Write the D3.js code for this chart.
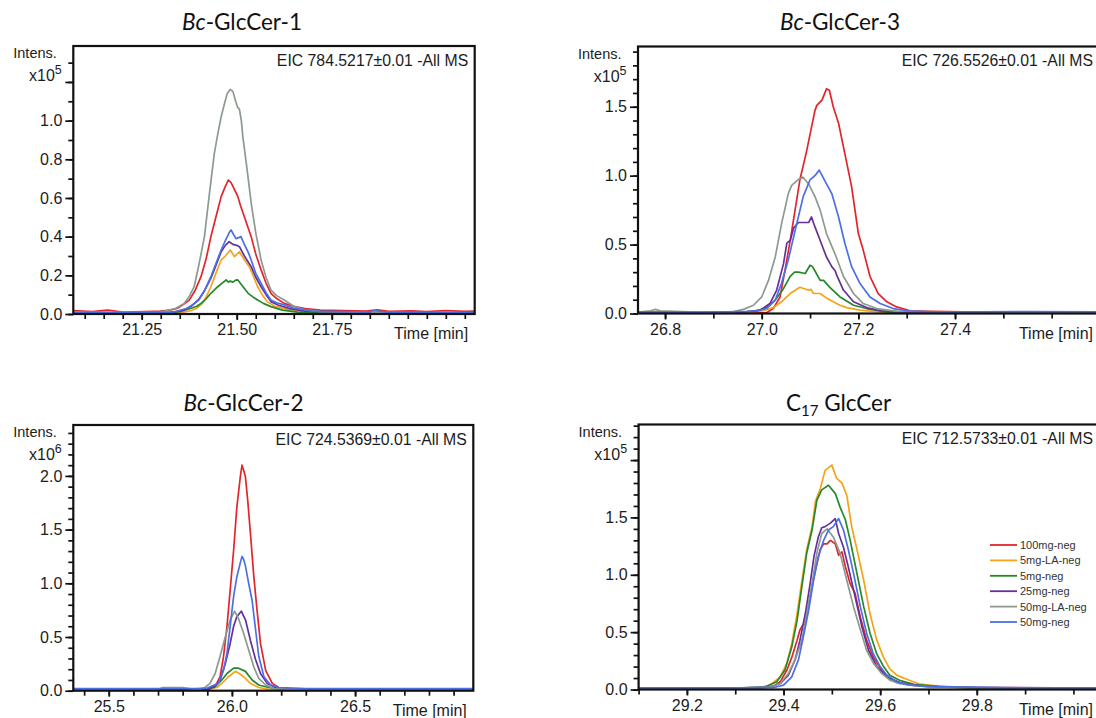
<!DOCTYPE html>
<html><head><meta charset="utf-8">
<script src="https://cdn.jsdelivr.net/npm/d3@7/dist/d3.min.js"></script>
<style>body{margin:0;background:#fff;} svg{display:block;}</style>
</head><body>
<svg id="c" width="1096" height="718"></svg>
<script>
// ---------- DATA ----------
const seriesNames = ["100mg-neg","5mg-LA-neg","5mg-neg","25mg-neg","50mg-LA-neg","50mg-neg"];

const titleItalic = ["Bc","Bc","Bc",""];
const titleMain   = ["-GlcCer-1","-GlcCer-3","-GlcCer-2","C"];
const titleSub    = ["","","","17"];
const titleTail   = ["","",""," GlcCer"];
const eicLabels = ["EIC 784.5217±0.01 -All MS","EIC 726.5526±0.01 -All MS","EIC 724.5369±0.01 -All MS","EIC 712.5733±0.01 -All MS"];
const intensExp = ["5","5","6","5"];

const xLabels1 = [21.25,21.50,21.75];
const xLabels2 = [26.8,27.0,27.2,27.4];
const xLabels3 = [25.5,26.0,26.5];
const xLabels4 = [29.2,29.4,29.6,29.8];
const yLabels1 = [0.0,0.2,0.4,0.6,0.8,1.0];
const yLabels2 = [0.0,0.5,1.0,1.5];
const yLabels3 = [0.0,0.5,1.0,1.5,2.0];
const yLabels4 = [0.0,0.5,1.0,1.5];

// Panel 1: Bc-GlcCer-1 (x10^5)
const p1_100mg = [[21.07,0.018],[21.12,0.012],[21.16,0.02],[21.20,0.01],[21.26,0.012],[21.30,0.015],[21.33,0.022],[21.344,0.03],[21.36,0.05],[21.375,0.072],[21.39,0.12],[21.406,0.193],[21.42,0.29],[21.432,0.40],[21.445,0.50],[21.459,0.607],[21.47,0.66],[21.478,0.693],[21.485,0.68],[21.49,0.66],[21.503,0.607],[21.51,0.56],[21.52,0.503],[21.538,0.40],[21.55,0.31],[21.564,0.228],[21.577,0.16],[21.59,0.107],[21.605,0.08],[21.625,0.055],[21.65,0.04],[21.68,0.028],[21.72,0.02],[21.78,0.018],[21.84,0.015],[21.87,0.022],[21.90,0.014],[21.96,0.016],[22.0,0.012],[22.05,0.018],[22.1,0.014],[22.126,0.015]];
const p1_5mgLA = [[21.07,0.005],[21.2,0.004],[21.3,0.006],[21.36,0.01],[21.38,0.018],[21.395,0.03],[21.41,0.055],[21.42,0.09],[21.432,0.141],[21.445,0.21],[21.459,0.279],[21.47,0.30],[21.483,0.331],[21.494,0.297],[21.507,0.322],[21.52,0.28],[21.533,0.245],[21.545,0.19],[21.555,0.141],[21.567,0.10],[21.58,0.064],[21.6,0.04],[21.63,0.025],[21.67,0.015],[21.75,0.008],[21.9,0.006],[22.126,0.005]];
const p1_5mg = [[21.07,0.004],[21.2,0.003],[21.3,0.005],[21.35,0.012],[21.38,0.03],[21.395,0.04],[21.406,0.055],[21.42,0.08],[21.432,0.107],[21.45,0.141],[21.465,0.165],[21.472,0.176],[21.478,0.165],[21.483,0.17],[21.49,0.165],[21.497,0.175],[21.503,0.176],[21.515,0.145],[21.53,0.107],[21.545,0.085],[21.555,0.072],[21.57,0.055],[21.59,0.038],[21.62,0.02],[21.66,0.01],[21.75,0.006],[22.126,0.004]];
const p1_25mg = [[21.07,0.006],[21.25,0.005],[21.33,0.008],[21.36,0.02],[21.38,0.04],[21.40,0.075],[21.415,0.12],[21.432,0.185],[21.445,0.25],[21.459,0.322],[21.47,0.355],[21.48,0.374],[21.49,0.36],[21.5,0.355],[21.507,0.348],[21.52,0.30],[21.538,0.245],[21.55,0.19],[21.564,0.141],[21.577,0.10],[21.59,0.064],[21.61,0.045],[21.64,0.028],[21.68,0.015],[21.8,0.008],[22.126,0.006]];
const p1_50mgLA = [[21.07,0.01],[21.2,0.008],[21.3,0.01],[21.34,0.03],[21.362,0.055],[21.375,0.09],[21.388,0.141],[21.40,0.25],[21.415,0.40],[21.428,0.62],[21.441,0.831],[21.45,0.93],[21.459,1.02],[21.468,1.09],[21.475,1.14],[21.483,1.162],[21.49,1.15],[21.497,1.10],[21.502,1.07],[21.507,1.06],[21.512,1.0],[21.516,0.917],[21.527,0.75],[21.538,0.573],[21.55,0.42],[21.564,0.279],[21.577,0.19],[21.59,0.124],[21.605,0.095],[21.625,0.072],[21.652,0.038],[21.68,0.022],[21.72,0.012],[21.8,0.01],[22.126,0.006]];
const p1_50mg = [[21.07,0.008],[21.25,0.006],[21.33,0.008],[21.37,0.03],[21.385,0.05],[21.40,0.072],[21.415,0.12],[21.432,0.193],[21.445,0.26],[21.459,0.331],[21.47,0.38],[21.48,0.42],[21.485,0.435],[21.492,0.41],[21.498,0.39],[21.505,0.395],[21.511,0.40],[21.52,0.36],[21.53,0.32],[21.538,0.279],[21.55,0.21],[21.564,0.159],[21.577,0.11],[21.59,0.072],[21.605,0.058],[21.625,0.047],[21.65,0.03],[21.7,0.015],[21.85,0.01],[21.86,0.018],[21.9,0.008],[22.126,0.008]];

// Panel 2: Bc-GlcCer-3 (x10^5)
const p2_100mg = [[26.744,0.005],[26.9,0.005],[26.98,0.005],[27.01,0.005],[27.024,0.036],[27.038,0.12],[27.048,0.31],[27.059,0.53],[27.069,0.75],[27.079,0.97],[27.093,1.18],[27.11,1.47],[27.114,1.51],[27.125,1.55],[27.134,1.63],[27.14,1.62],[27.148,1.50],[27.159,1.38],[27.172,1.16],[27.186,0.92],[27.2,0.58],[27.21,0.46],[27.224,0.27],[27.241,0.145],[27.259,0.085],[27.279,0.048],[27.307,0.02],[27.35,0.015],[27.45,0.01],[27.55,0.006],[27.7,0.005]];
const p2_5mgLA = [[26.744,0.005],[26.95,0.005],[27.003,0.02],[27.024,0.043],[27.041,0.085],[27.059,0.145],[27.07,0.17],[27.079,0.19],[27.088,0.18],[27.097,0.17],[27.102,0.175],[27.107,0.145],[27.121,0.145],[27.135,0.11],[27.148,0.085],[27.162,0.06],[27.176,0.043],[27.203,0.024],[27.25,0.01],[27.35,0.006],[27.7,0.005]];
const p2_5mg = [[26.744,0.005],[26.95,0.006],[26.99,0.02],[27.01,0.043],[27.028,0.097],[27.045,0.18],[27.059,0.27],[27.068,0.30],[27.076,0.30],[27.09,0.29],[27.1,0.35],[27.105,0.34],[27.11,0.31],[27.121,0.24],[27.128,0.24],[27.141,0.19],[27.162,0.12],[27.19,0.06],[27.217,0.036],[27.259,0.012],[27.3,0.008],[27.7,0.006]];
const p2_25mg = [[26.744,0.006],[26.96,0.008],[26.997,0.024],[27.017,0.072],[27.031,0.17],[27.045,0.36],[27.052,0.51],[27.059,0.53],[27.066,0.62],[27.076,0.66],[27.09,0.66],[27.097,0.66],[27.103,0.70],[27.11,0.63],[27.121,0.53],[27.134,0.41],[27.145,0.34],[27.152,0.31],[27.155,0.28],[27.169,0.17],[27.19,0.085],[27.217,0.043],[27.245,0.02],[27.3,0.01],[27.7,0.006]];
const p2_50mgLA = [[26.744,0.01],[26.77,0.02],[26.78,0.03],[26.79,0.02],[26.85,0.012],[26.92,0.01],[26.94,0.012],[26.962,0.03],[26.983,0.06],[27.0,0.12],[27.014,0.24],[27.028,0.41],[27.041,0.65],[27.055,0.87],[27.062,0.93],[27.075,0.97],[27.085,0.99],[27.097,0.94],[27.11,0.85],[27.121,0.75],[27.134,0.58],[27.152,0.43],[27.169,0.27],[27.19,0.145],[27.21,0.072],[27.238,0.036],[27.28,0.015],[27.4,0.01],[27.7,0.008]];
const p2_50mg = [[26.744,0.012],[26.87,0.01],[26.93,0.012],[26.97,0.015],[26.99,0.02],[27.01,0.036],[27.028,0.097],[27.041,0.22],[27.055,0.39],[27.069,0.60],[27.086,0.85],[27.1,0.97],[27.11,1.0],[27.119,1.04],[27.134,0.94],[27.145,0.87],[27.159,0.70],[27.172,0.51],[27.186,0.34],[27.203,0.22],[27.224,0.12],[27.245,0.072],[27.272,0.036],[27.3,0.02],[27.35,0.012],[27.45,0.012],[27.55,0.014],[27.7,0.012]];

// Panel 3: Bc-GlcCer-2 (x10^6)
const p3_100mg = [[25.356,0.012],[25.85,0.012],[25.9,0.015],[25.932,0.037],[25.952,0.13],[25.966,0.32],[25.98,0.60],[25.993,0.94],[26.007,1.31],[26.02,1.71],[26.034,1.99],[26.041,2.10],[26.048,2.05],[26.055,1.99],[26.065,1.75],[26.075,1.47],[26.089,1.06],[26.102,0.75],[26.116,0.44],[26.137,0.19],[26.164,0.068],[26.19,0.03],[26.25,0.015],[26.98,0.012]];
const p3_5mgLA = [[25.356,0.008],[25.9,0.01],[25.939,0.03],[25.959,0.068],[25.986,0.13],[26.014,0.18],[26.03,0.16],[26.048,0.13],[26.075,0.068],[26.109,0.03],[26.15,0.012],[26.98,0.008]];
const p3_5mg = [[25.356,0.008],[25.9,0.012],[25.932,0.037],[25.959,0.10],[25.98,0.16],[26.007,0.21],[26.027,0.21],[26.055,0.18],[26.082,0.10],[26.109,0.053],[26.15,0.03],[26.2,0.012],[26.98,0.008]];
const p3_25mg = [[25.356,0.01],[25.9,0.012],[25.93,0.04],[25.952,0.10],[25.973,0.25],[25.993,0.44],[26.007,0.60],[26.02,0.69],[26.038,0.74],[26.055,0.66],[26.075,0.47],[26.096,0.29],[26.116,0.16],[26.143,0.068],[26.178,0.03],[26.22,0.015],[26.98,0.01]];
const p3_50mgLA = [[25.356,0.01],[25.70,0.012],[25.72,0.03],[25.8,0.03],[25.84,0.015],[25.87,0.015],[25.89,0.03],[25.911,0.068],[25.932,0.16],[25.952,0.32],[25.973,0.50],[25.993,0.66],[26.011,0.74],[26.027,0.67],[26.048,0.53],[26.068,0.38],[26.089,0.22],[26.109,0.115],[26.137,0.053],[26.17,0.02],[26.25,0.012],[26.98,0.01]];
const p3_50mg = [[25.356,0.02],[25.7,0.02],[25.85,0.02],[25.9,0.025],[25.945,0.068],[25.966,0.19],[25.98,0.35],[25.993,0.60],[26.007,0.88],[26.02,1.06],[26.034,1.19],[26.041,1.25],[26.048,1.22],[26.055,1.16],[26.068,1.0],[26.082,0.84],[26.096,0.57],[26.109,0.32],[26.13,0.13],[26.157,0.053],[26.19,0.03],[26.25,0.025],[26.3,0.02],[26.98,0.02]];

// Panel 4: C17 GlcCer (x10^5)
const p4_100mg = [[29.10,0.012],[29.3,0.012],[29.35,0.015],[29.38,0.03],[29.393,0.067],[29.407,0.17],[29.417,0.28],[29.428,0.43],[29.434,0.52],[29.445,0.60],[29.455,0.81],[29.466,1.04],[29.476,1.22],[29.483,1.27],[29.49,1.27],[29.497,1.30],[29.507,1.27],[29.514,1.17],[29.521,1.20],[29.528,1.07],[29.538,0.92],[29.548,0.84],[29.559,0.63],[29.572,0.43],[29.586,0.28],[29.603,0.17],[29.62,0.096],[29.64,0.06],[29.66,0.04],[29.7,0.025],[29.75,0.02],[29.8,0.015],[29.85,0.012],[30.055,0.01]];
const p4_5mgLA = [[29.10,0.01],[29.3,0.01],[29.352,0.017],[29.372,0.038],[29.393,0.11],[29.407,0.23],[29.417,0.40],[29.428,0.66],[29.438,0.95],[29.448,1.22],[29.459,1.42],[29.466,1.64],[29.476,1.75],[29.486,1.91],[29.5,1.956],[29.51,1.84],[29.521,1.80],[29.531,1.69],[29.541,1.42],[29.552,1.22],[29.566,0.95],[29.579,0.66],[29.593,0.43],[29.607,0.28],[29.62,0.18],[29.634,0.125],[29.655,0.09],[29.68,0.05],[29.72,0.03],[29.8,0.015],[30.055,0.01]];
const p4_5mg = [[29.10,0.012],[29.3,0.012],[29.36,0.02],[29.386,0.067],[29.403,0.17],[29.417,0.37],[29.428,0.60],[29.438,0.90],[29.448,1.19],[29.459,1.39],[29.469,1.65],[29.479,1.74],[29.493,1.78],[29.507,1.71],[29.517,1.59],[29.528,1.48],[29.538,1.30],[29.552,1.01],[29.566,0.72],[29.579,0.49],[29.593,0.31],[29.607,0.20],[29.62,0.125],[29.64,0.08],[29.67,0.045],[29.72,0.025],[29.8,0.015],[30.055,0.012]];
const p4_25mg = [[29.10,0.012],[29.3,0.012],[29.37,0.02],[29.393,0.052],[29.41,0.125],[29.424,0.26],[29.434,0.43],[29.445,0.66],[29.455,0.92],[29.463,1.16],[29.472,1.33],[29.479,1.41],[29.486,1.42],[29.497,1.45],[29.507,1.49],[29.514,1.36],[29.524,1.24],[29.534,1.07],[29.548,0.81],[29.562,0.55],[29.576,0.34],[29.593,0.20],[29.614,0.11],[29.64,0.06],[29.68,0.035],[29.75,0.02],[30.055,0.012]];
const p4_50mgLA = [[29.10,0.012],[29.3,0.012],[29.37,0.02],[29.393,0.052],[29.41,0.14],[29.424,0.26],[29.438,0.43],[29.448,0.66],[29.459,0.92],[29.469,1.19],[29.479,1.36],[29.49,1.40],[29.503,1.33],[29.517,1.19],[29.531,0.95],[29.545,0.72],[29.559,0.52],[29.572,0.34],[29.586,0.23],[29.603,0.14],[29.62,0.081],[29.64,0.05],[29.68,0.03],[29.75,0.018],[30.055,0.012]];
const p4_50mg = [[29.10,0.015],[29.3,0.015],[29.38,0.017],[29.40,0.038],[29.417,0.11],[29.431,0.26],[29.441,0.46],[29.452,0.69],[29.462,0.95],[29.472,1.16],[29.483,1.30],[29.493,1.39],[29.503,1.42],[29.514,1.49],[29.524,1.39],[29.534,1.22],[29.545,1.01],[29.559,0.72],[29.572,0.49],[29.586,0.31],[29.6,0.20],[29.614,0.125],[29.634,0.067],[29.66,0.04],[29.7,0.025],[29.8,0.018],[29.85,0.015],[30.055,0.015]];

const panelSeries = [
  [p1_100mg,p1_5mgLA,p1_5mg,p1_25mg,p1_50mgLA,p1_50mg],
  [p2_100mg,p2_5mgLA,p2_5mg,p2_25mg,p2_50mgLA,p2_50mg],
  [p3_100mg,p3_5mgLA,p3_5mg,p3_25mg,p3_50mgLA,p3_50mg],
  [p4_100mg,p4_5mgLA,p4_5mg,p4_25mg,p4_50mgLA,p4_50mg]
];
const xLabelSets = [xLabels1,xLabels2,xLabels3,xLabels4];
const yLabelSets = [yLabels1,yLabels2,yLabels3,yLabels4];

// ---------- STYLE / LAYOUT ----------
const colors = ["#e3242b","#f5a31a","#23892a","#65309a","#8d9a8e","#4a6fe6"];
const layout = [
  {l:73.3, r:474.7, t:46,   b:314,   xd:[21.07,22.126], yd:[0,1.386], xMinorStep:0.05, xFmt:".2f", yTop:1.3, yMajorExtra:[1.2], title:[242,30]},
  {l:638,  r:1100,  t:46.5, b:313.5, xd:[26.744,27.7],  yd:[0,1.937], xMinorStep:0.1,  xFmt:".1f", yTop:1.9, yMajorExtra:[],    title:[840,30]},
  {l:73.3, r:473.3, t:425,  b:690.7, xd:[25.356,26.98], yd:[0,2.474], xMinorStep:0.1,  xFmt:".1f", yTop:2.4, yMajorExtra:[],    title:[243.5,411]},
  {l:638.6,r:1100,  t:424.5,b:689.5, xd:[29.10,30.055], yd:[0,2.31],  xMinorStep:0.1,  xFmt:".1f", yTop:2.3, yMajorExtra:[2.0], title:[838.6,411]}
];
const FONT = "'Liberation Sans', Arial, sans-serif";
const TXT = "#1c1c1c";
const svg = d3.select("#c");

layout.forEach((L, pi) => {
  const g = svg.append("g");
  const x = d3.scaleLinear().domain(L.xd).range([L.l, L.r]);
  const y = d3.scaleLinear().domain(L.yd).range([L.b, L.t]);

  const clipId = "clip" + pi;
  svg.append("clipPath").attr("id", clipId).append("rect")
    .attr("x", L.l).attr("y", L.t).attr("width", L.r - L.l).attr("height", L.b - L.t);

  const line = d3.line().x(d => x(d[0])).y(d => y(d[1]));
  const lg = g.append("g").attr("clip-path", `url(#${clipId})`);
  panelSeries[pi].forEach((s, si) => {
    lg.append("path").datum(s).attr("d", line)
      .attr("fill", "none").attr("stroke", colors[si]).attr("stroke-width", 1.7)
      .attr("stroke-linejoin", "round");
  });

  // frame
  g.append("rect").attr("x", L.l).attr("y", L.t).attr("width", L.r - L.l).attr("height", L.b - L.t)
    .attr("fill", "none").attr("stroke", "#111").attr("stroke-width", 2.2);

  // y axis
  const yMinor = d3.range(0, L.yTop + 1e-9, 0.1);
  const yLab = yLabelSets[pi];
  const yMinorAx = d3.axisLeft(y).tickValues(yMinor).tickSize(5).tickFormat("");
  const yMajorAx = d3.axisLeft(y).tickValues(yLab.concat(L.yMajorExtra)).tickSize(8).tickPadding(3)
    .tickFormat(v => yLab.includes(v) ? d3.format(".1f")(v) : "");
  [yMinorAx, yMajorAx].forEach(ax => {
    const a = g.append("g").attr("transform", `translate(${L.l},0)`).call(ax);
    a.select(".domain").remove();
    a.selectAll("line").attr("stroke", "#111").attr("stroke-width", 1.7);
    a.selectAll("text").attr("font-family", FONT).attr("font-size", 16).attr("fill", TXT);
  });

  // x axis
  const xs = L.xMinorStep;
  const xStart = Math.ceil(L.xd[0] / xs - 1e-6) * xs;
  const xMinor = d3.range(xStart, L.xd[1] - 0.01, xs).filter(v => x(v) < 1090);
  const xLab = xLabelSets[pi];
  const xMinorAx = d3.axisBottom(x).tickValues(xMinor).tickSize(5).tickFormat("");
  const xMajorAx = d3.axisBottom(x).tickValues(xLab).tickSize(6).tickPadding(4).tickFormat(d3.format(L.xFmt));
  [xMinorAx, xMajorAx].forEach(ax => {
    const a = g.append("g").attr("transform", `translate(0,${L.b})`).call(ax);
    a.select(".domain").remove();
    a.selectAll("line").attr("stroke", "#111").attr("stroke-width", 1.7);
    a.selectAll("text").attr("font-family", FONT).attr("font-size", 16).attr("fill", TXT);
  });

  const txtRight = Math.min(L.r - 6.5, 1093);
  g.append("text").attr("x", txtRight).attr("y", L.b + 25).attr("text-anchor", "end")
    .attr("font-family", FONT).attr("font-size", 16).attr("fill", TXT).text("Time [min]");

  g.append("text").attr("x", txtRight).attr("y", L.t + 19.5).attr("text-anchor", "end")
    .attr("font-family", FONT).attr("font-size", 15.8).attr("fill", TXT).text(eicLabels[pi]);

  g.append("text").attr("x", L.l - 16.5).attr("y", L.t + 12).attr("text-anchor", "end")
    .attr("font-family", FONT).attr("font-size", 14.5).attr("fill", TXT).text("Intens.");
  const xt = g.append("text").attr("x", L.l - 11.5).attr("y", L.t + 35).attr("text-anchor", "end")
    .attr("font-family", FONT).attr("font-size", 16).attr("fill", TXT);
  xt.append("tspan").text("x10");
  xt.append("tspan").attr("dy", -7).attr("font-size", 12.5).text(intensExp[pi]);

  // title
  const tt = svg.append("text").attr("x", L.title[0]).attr("y", L.title[1]).attr("text-anchor", "middle")
    .attr("font-family", "Lato, 'Open Sans', sans-serif").attr("font-size", 22.5).attr("fill", "#111");
  if (titleItalic[pi]) tt.append("tspan").attr("font-style", "italic").text(titleItalic[pi]);
  tt.append("tspan").text(titleMain[pi]);
  if (titleSub[pi]) {
    tt.append("tspan").attr("dy", 5).attr("font-size", 15).text(titleSub[pi]);
    tt.append("tspan").attr("dy", -5).text(titleTail[pi]);
  }

  // legend (panel 4)
  if (pi === 3) {
    const leg = svg.append("g");
    seriesNames.forEach((n, i) => {
      const yy = 545 + i * 15.4;
      leg.append("line").attr("x1", 990).attr("x2", 1017).attr("y1", yy).attr("y2", yy)
        .attr("stroke", colors[i]).attr("stroke-width", 1.8);
      leg.append("text").attr("x", 1020).attr("y", yy + 4).attr("font-family", FONT)
        .attr("font-size", 11).attr("fill", "#333").text(n);
    });
  }
});
</script>
</body></html>
